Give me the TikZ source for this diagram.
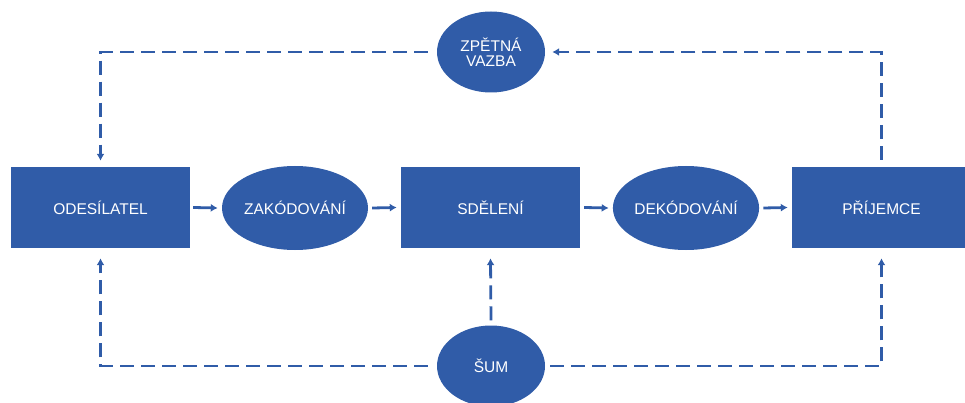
\documentclass[tikz,border=0pt]{standalone}
\usepackage{fontspec}
\setmainfont{Liberation Sans}
\usetikzlibrary{arrows.meta,shapes.geometric}

\definecolor{modra}{HTML}{305CA8}

\tikzset{
  blok/.style={rectangle, fill=modra, text=white, minimum width=179pt, minimum height=81pt, inner sep=0pt},
  elip/.style={ellipse, fill=modra, text=white, minimum width=146pt, minimum height=84pt, inner sep=0pt, align=center},
  mala/.style={elip, minimum width=108pt, minimum height=81pt},
  sipka/.style={draw=modra, line width=2.8pt, -{Latex[length=7pt,width=8pt]}},
  zpet/.style={sipka, dash pattern=on 14pt off 7pt}
}

\begin{document}
\begin{tikzpicture}[x=1pt, y=-1pt, font=\fontsize{15.5}{17}\selectfont]
    \clip (0,0) rectangle (965,403);

	%bloky
    \node[blok] (odes) at (100.5,207.5) {ODESÍLATEL};
    \node[elip] (zak) at (295,208) {ZAKÓDOVÁNÍ};
    \node[blok] (sdel) at (490.5,207.5) {SDĚLENÍ};
    \node[elip] (dek) at (686,208) {DEKÓDOVÁNÍ};
    \node[blok] (prij) at (881.5,207.5) {PŘÍJEMCE};

    \node[mala] (vazba) at (491,52) {ZPĚTNÁ\\[-2pt]VAZBA};
    \node[mala] (sum) at (491,366) {ŠUM};

	%hlavni tok
    \draw[sipka] ([xshift=3pt]odes.east) -- ([xshift=-4pt]zak.west);
    \draw[sipka] ([xshift=4pt]zak.east) -- ([xshift=-4pt]sdel.west);
    \draw[sipka] ([xshift=4pt]sdel.east) -- ([xshift=-4pt]dek.west);
    \draw[sipka] ([xshift=4pt]dek.east) -- ([xshift=-4pt]prij.west);

	%zpetna vazba
    \draw[zpet] ([yshift=7pt]prij.north) |- ([xshift=7pt]vazba.east);
    \draw[zpet] ([xshift=-9pt]vazba.west) -| ([yshift=6pt]odes.north);

	%sum
    \draw[zpet] ([yshift=5pt]sum.north) -- ([yshift=-10pt]sdel.south);
    \draw[zpet] ([xshift=-9pt]sum.west) -| ([yshift=-10pt]odes.south);
    \draw[zpet] ([xshift=5pt]sum.east) -| ([yshift=-10pt]prij.south);

\end{tikzpicture}
\end{document}
